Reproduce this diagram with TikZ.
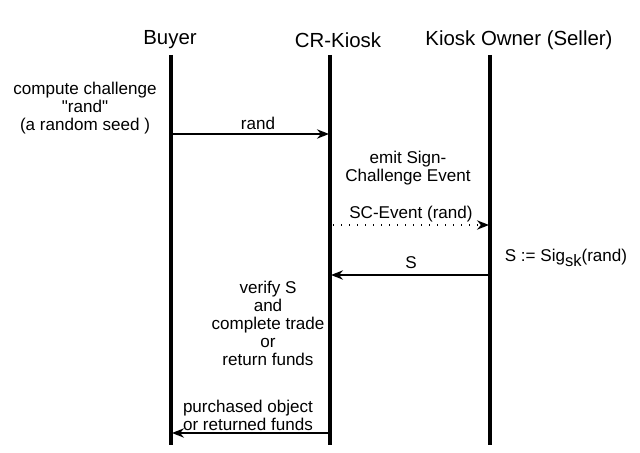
\documentclass[tikz,border=0pt]{standalone}
\usepackage{fontspec}
\setmainfont{Liberation Sans}
\newfontfamily\plainsans{Liberation Sans}
\usetikzlibrary{arrows.meta}
\begin{document}
\begin{tikzpicture}[x=0.75pt,y=-0.75pt,
  title/.style={font=\plainsans\fontsize{15.3}{17}\selectfont, inner sep=0pt},
  txt/.style={font=\plainsans\fontsize{12.8}{13.5}\selectfont, align=center, inner sep=0pt},
  life/.style={line width=2.3pt},
  msg/.style={line width=1.2pt, -{Stealth[length=9pt,width=7pt]}},
  dotmsg/.style={msg, dash pattern=on 1.1pt off 4.9pt}
]
\useasboundingbox (0,0) rectangle (640,453);
% lifeline heads
\node[title] (tb) at (170,40) {Buyer};
\node[title] (tk) at (338,40) {CR-Kiosk};
\node[title] (to) at (519,40) {Kiosk Owner (Seller)};
% lifelines
\coordinate (b0) at (171,55); \coordinate (b1) at (171,445);
\coordinate (k0) at (330,55); \coordinate (k1) at (330,445);
\coordinate (o0) at (490,55); \coordinate (o1) at (490,445);
\draw[life] (b0) -- (b1);
\draw[life] (k0) -- (k1);
\draw[life] (o0) -- (o1);
% message endpoints
\coordinate (m1s) at (171,134); \coordinate (m1e) at (329,134);
\coordinate (m2s) at (333,225); \coordinate (m2e) at (489,225);
\coordinate (m3s) at (489,275); \coordinate (m3e) at (331,275);
\coordinate (m4s) at (329,433); \coordinate (m4e) at (172,433);
\draw[msg] (m1s) -- (m1e);
\draw[dotmsg] (m2s) -- (m2e);
\draw[msg] (m3s) -- (m3e);
\draw[msg] (m4s) -- (m4e);
% labels
\node[txt] (l1) at (258,123) {rand};
\node[txt] (l2) at (411,214) {SC-Event (rand)};
\node[txt] (l3) at (411,263) {S};
\node[txt] (l4) at (248,415) {purchased object\\or returned funds};
% notes
\node[txt] (n1) at (85,108) {compute challenge\\"rand"\\(a random seed )};
\node[txt] (n2) at (408,168) {emit Sign-\\Challenge Event};
\node[txt] (n3) at (566,258) {S := Sig\raisebox{-0.3em}{\fontsize{12.4}{13}\selectfont sk}(rand)};
\node[txt] (n4) at (268,323) {verify S\\and\\complete trade\\or\\return funds};
\end{tikzpicture}
\end{document}
